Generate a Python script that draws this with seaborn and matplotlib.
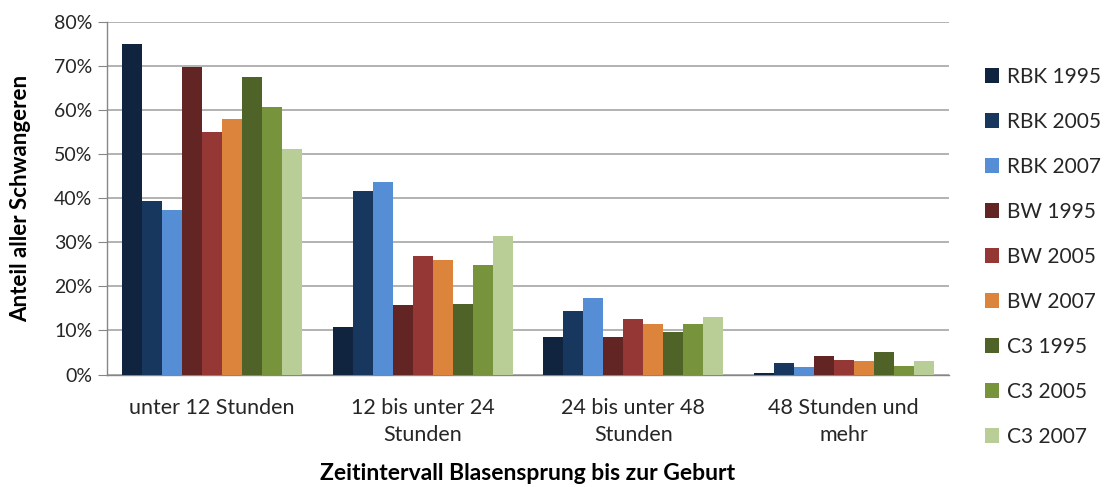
import pandas as pd
import seaborn as sns
import matplotlib.pyplot as plt
from matplotlib.ticker import PercentFormatter

# Data (percent)
categories = ['unter 12 Stunden', '12 bis unter 24\nStunden', '24 bis unter 48\nStunden', '48 Stunden und\nmehr']
series = ['RBK 1995', 'RBK 2005', 'RBK 2007', 'BW 1995', 'BW 2005', 'BW 2007', 'C3 1995', 'C3 2005', 'C3 2007']
rbk_1995 = [75.0, 10.7, 8.5, 0.4]
rbk_2005 = [39.3, 41.7, 14.4, 2.5]
rbk_2007 = [37.3, 43.6, 17.4, 1.7]
bw_1995 = [69.7, 15.8, 8.5, 4.2]
bw_2005 = [55.1, 26.8, 12.6, 3.3]
bw_2007 = [58.0, 25.9, 11.5, 3.0]
c3_1995 = [67.4, 16.0, 9.6, 5.2]
c3_2005 = [60.7, 24.9, 11.5, 2.0]
c3_2007 = [51.2, 31.4, 13.0, 3.0]
colors = ['#10243F', '#17375E', '#558ED5', '#632523', '#953735', '#DD843C',
          '#4F6228', '#77933C', '#B9CD96']

values = [rbk_1995, rbk_2005, rbk_2007, bw_1995, bw_2005, bw_2007, c3_1995, c3_2005, c3_2007]
rows = []
for name, vals in zip(series, values):
    for cat, v in zip(categories, vals):
        rows.append({'Kategorie': cat, 'Serie': name, 'Anteil': v})
df = pd.DataFrame(rows)

sns.set_style('white')
plt.rcParams['font.family'] = ['Lato', 'DejaVu Sans']

fig = plt.figure(figsize=(11.06, 4.87), dpi=100)
ax = fig.add_axes([0.0967, 0.231, 0.7613, 0.724])

sns.barplot(data=df, x='Kategorie', y='Anteil', hue='Serie', order=categories,
            hue_order=series, palette=colors, width=0.855, saturation=1,
            errorbar=None, linewidth=0, ax=ax, zorder=3)

ax.set_ylim(0, 80)
ax.set_xlim(-0.5, 3.5)
ax.set_yticks(range(0, 81, 10))
ax.yaxis.set_major_formatter(PercentFormatter(decimals=0))
ax.grid(axis='y', color='#A6A6A6', linewidth=1.2, zorder=0)
ax.set_axisbelow(True)

for side in ['top', 'right']:
    ax.spines[side].set_visible(False)
for side in ['left', 'bottom']:
    ax.spines[side].set_color('#868686')
    ax.spines[side].set_linewidth(1.0)

ax.tick_params(axis='y', direction='out', length=6.5, color='#868686',
               labelsize=14, labelcolor='#262626', pad=4, left=True)
ax.tick_params(axis='x', length=0, labelsize=15.5, labelcolor='#262626', pad=17)
for lbl in ax.get_xticklabels():
    lbl.set_linespacing(1.45)

ax.set_xlabel('Zeitintervall Blasensprung bis zur Geburt', fontsize=16.5,
              fontweight='bold', color='black', va='top')
ax.xaxis.set_label_coords(0.5, -0.251)
ax.set_ylabel('Anteil aller Schwangeren', fontsize=16, fontweight='bold',
              color='black')
ax.yaxis.set_label_coords(-0.09, 0.5)

ax.legend(loc='upper left', bbox_to_anchor=(1.02, 0.926), frameon=False,
          fontsize=15, handlelength=0.7, handleheight=0.7,
          labelspacing=1.2, handletextpad=0.4, labelcolor='#262626')

fig.savefig('out.png', dpi=100)
